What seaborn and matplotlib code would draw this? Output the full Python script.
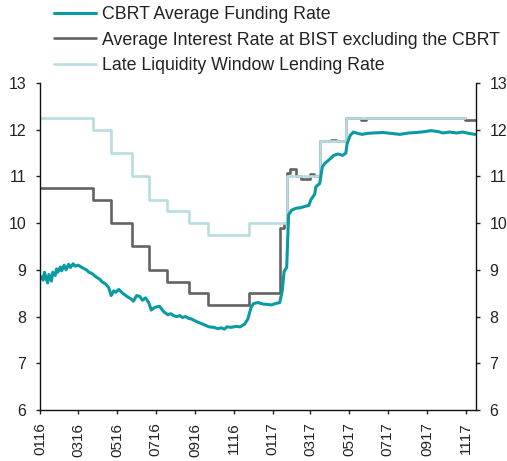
import pandas as pd
import seaborn as sns
import matplotlib.pyplot as plt
import matplotlib.dates as mdates

# CBRT average funding rate
TEAL_DATES = [
    "2016-01-04", "2016-01-06", "2016-01-08", "2016-01-11", "2016-01-13",
    "2016-01-15", "2016-01-19", "2016-01-21", "2016-01-25", "2016-01-27",
    "2016-01-29", "2016-02-02", "2016-02-04", "2016-02-08", "2016-02-11",
    "2016-02-15", "2016-02-18", "2016-02-22", "2016-02-25", "2016-03-01",
    "2016-03-07", "2016-03-14", "2016-03-18", "2016-03-23", "2016-03-28",
    "2016-04-04", "2016-04-08", "2016-04-13", "2016-04-18", "2016-04-22",
    "2016-04-26", "2016-04-29", "2016-05-04", "2016-05-10", "2016-05-13",
    "2016-05-18", "2016-05-23", "2016-05-27", "2016-06-01", "2016-06-06",
    "2016-06-10", "2016-06-15", "2016-06-20", "2016-06-24", "2016-06-30",
    "2016-07-07", "2016-07-11", "2016-07-14", "2016-07-20", "2016-07-25",
    "2016-07-29", "2016-08-03", "2016-08-08", "2016-08-12", "2016-08-17",
    "2016-08-22", "2016-08-26", "2016-09-02", "2016-09-09", "2016-09-16",
    "2016-09-23", "2016-09-30", "2016-10-07", "2016-10-12", "2016-10-17",
    "2016-10-21", "2016-10-28", "2016-11-04", "2016-11-11", "2016-11-18",
    "2016-11-23", "2016-11-28", "2016-12-02", "2016-12-09", "2016-12-16",
    "2016-12-23", "2016-12-30", "2017-01-06", "2017-01-12", "2017-01-16",
    "2017-01-19", "2017-01-23", "2017-01-26", "2017-01-31", "2017-02-07",
    "2017-02-14", "2017-02-21", "2017-02-27", "2017-03-02", "2017-03-08",
    "2017-03-10", "2017-03-16", "2017-03-20", "2017-03-24", "2017-03-31",
    "2017-04-07", "2017-04-14", "2017-04-21", "2017-04-26", "2017-04-28",
    "2017-05-03", "2017-05-08", "2017-05-15", "2017-05-22", "2017-05-29",
    "2017-06-09", "2017-06-23", "2017-07-07", "2017-07-20", "2017-08-03",
    "2017-08-15", "2017-08-29", "2017-09-07", "2017-09-18", "2017-09-26",
    "2017-10-06", "2017-10-17", "2017-10-27", "2017-11-06", "2017-11-15",
]
TEAL_VALUES = [
    8.85, 8.78, 8.95, 8.80, 8.72,
    8.90, 8.76, 8.95, 8.88, 9.02,
    8.95, 9.06, 8.98, 9.10, 9.00,
    9.12, 9.05, 9.13, 9.08, 9.10,
    9.05, 9.00, 8.95, 8.92, 8.86,
    8.80, 8.74, 8.70, 8.62, 8.45,
    8.55, 8.52, 8.58, 8.50, 8.47,
    8.42, 8.38, 8.33, 8.45, 8.43,
    8.35, 8.40, 8.30, 8.14, 8.20,
    8.22, 8.15, 8.10, 8.04, 8.06,
    8.02, 8.00, 8.02, 7.98, 8.00,
    7.96, 7.95, 7.90, 7.86, 7.82,
    7.78, 7.77, 7.74, 7.76, 7.73,
    7.78, 7.77, 7.79, 7.78, 7.84,
    7.95, 8.20, 8.28, 8.30, 8.27,
    8.26, 8.25, 8.28, 8.30, 8.55,
    8.97, 9.05, 10.18, 10.28, 10.32,
    10.33, 10.36, 10.38, 10.50, 10.62,
    10.78, 10.85, 11.20, 11.28, 11.36,
    11.45, 11.48, 11.45, 11.50, 11.70,
    11.88, 11.95, 11.92, 11.90, 11.92,
    11.93, 11.94, 11.92, 11.90, 11.93,
    11.94, 11.96, 11.98, 11.96, 11.93,
    11.95, 11.93, 11.95, 11.92, 11.90,
]

# Average interest rate at BIST (change points, drawn as steps)
GRAY_DATES = [
    "2016-01-01", "2016-03-24", "2016-04-21", "2016-05-24", "2016-06-21",
    "2016-07-19", "2016-08-23", "2016-09-22", "2016-11-24", "2017-01-13",
    "2017-01-18", "2017-01-23", "2017-01-28", "2017-02-06", "2017-02-15",
    "2017-02-28", "2017-03-07", "2017-03-16", "2017-04-03", "2017-04-10",
    "2017-04-27", "2017-05-20", "2017-05-28", "2017-10-30", "2017-11-15",
]
GRAY_VALUES = [
    10.75, 10.50, 10.00, 9.50, 9.00,
    8.75, 8.50, 8.25, 8.50, 9.90,
    10.00, 11.08, 11.15, 11.00, 10.95,
    11.05, 11.00, 11.75, 11.78, 11.75,
    12.25, 12.20, 12.25, 12.20, 12.20,
]

# Late liquidity window lending rate (change points)
LLW_DATES = [
    "2016-01-01", "2016-03-24", "2016-04-21", "2016-05-24", "2016-06-21",
    "2016-07-19", "2016-08-23", "2016-09-22", "2016-11-24", "2017-01-24",
    "2017-03-16", "2017-04-27", "2017-10-31",
]
LLW_VALUES = [
    12.25, 12.00, 11.50, 11.00, 10.50,
    10.25, 10.00, 9.75, 10.00, 11.00,
    11.75, 12.25, 12.25,
]

LABELS = [
    "CBRT Average Funding Rate",
    "Average Interest Rate at BIST excluding the CBRT",
    "Late Liquidity Window Lending Rate",
]
COLORS = ["#0a9aa2", "#636363", "#b9dce1"]
TEXT = "#222222"


def main():
    teal = pd.DataFrame({"date": pd.to_datetime(TEAL_DATES), "rate": TEAL_VALUES})
    gray = pd.DataFrame({"date": pd.to_datetime(GRAY_DATES), "rate": GRAY_VALUES})
    llw = pd.DataFrame({"date": pd.to_datetime(LLW_DATES), "rate": LLW_VALUES})
    style_plot(teal, gray, llw)


def style_plot(teal, gray, llw):
    sns.set_style("ticks")
    plt.rcParams["font.family"] = ["Liberation Sans", "DejaVu Sans"]

    fig = plt.figure(figsize=(5.07, 4.61), dpi=100)
    ax = fig.add_axes([0.0789, 0.1106, 0.859, 0.7094])

    sns.lineplot(data=gray, x="date", y="rate", ax=ax, color=COLORS[1],
                 linewidth=1.9, drawstyle="steps-post", label=LABELS[1])
    sns.lineplot(data=llw, x="date", y="rate", ax=ax, color=COLORS[2],
                 linewidth=1.9, drawstyle="steps-post", label=LABELS[2])
    sns.lineplot(data=teal, x="date", y="rate", ax=ax, color=COLORS[0],
                 linewidth=2.2, label=LABELS[0])

    ax.set_xlim(pd.Timestamp("2016-01-01"), pd.Timestamp("2017-11-16"))
    ax.set_ylim(6, 13)
    ax.set_yticks(range(6, 14))
    ax.xaxis.set_major_locator(mdates.MonthLocator(bymonth=[1, 3, 5, 7, 9, 11]))
    ax.xaxis.set_major_formatter(mdates.DateFormatter("%m%y"))
    ax.set(xlabel="", ylabel="")

    for side in ["left", "right", "bottom"]:
        ax.spines[side].set_color("#111111")
        ax.spines[side].set_linewidth(1.0)
    ax.spines["top"].set_visible(False)
    ax.spines["right"].set_visible(True)

    ax.tick_params(axis="y", which="both", left=True, right=True,
                   labelleft=True, labelright=True, length=3, width=1,
                   direction="out", labelsize=11.5, colors=TEXT, pad=7)
    ax.tick_params(axis="x", length=3, width=1, direction="out",
                   labelsize=11, colors=TEXT, labelrotation=90, pad=6)
    ax.grid(False)

    handles, labels = ax.get_legend_handles_labels()
    order = [labels.index(l) for l in LABELS]
    ax.legend().remove()
    fig.legend([handles[i] for i in order], LABELS, loc="upper left",
               bbox_to_anchor=(0.103, 0.99), frameon=False, fontsize=12.8,
               handlelength=2.35, handletextpad=0.35, labelspacing=0.46,
               borderpad=0.1, borderaxespad=0, labelcolor=TEXT)

    plt.savefig("out.png", dpi=100)


if __name__ == "__main__":
    main()
